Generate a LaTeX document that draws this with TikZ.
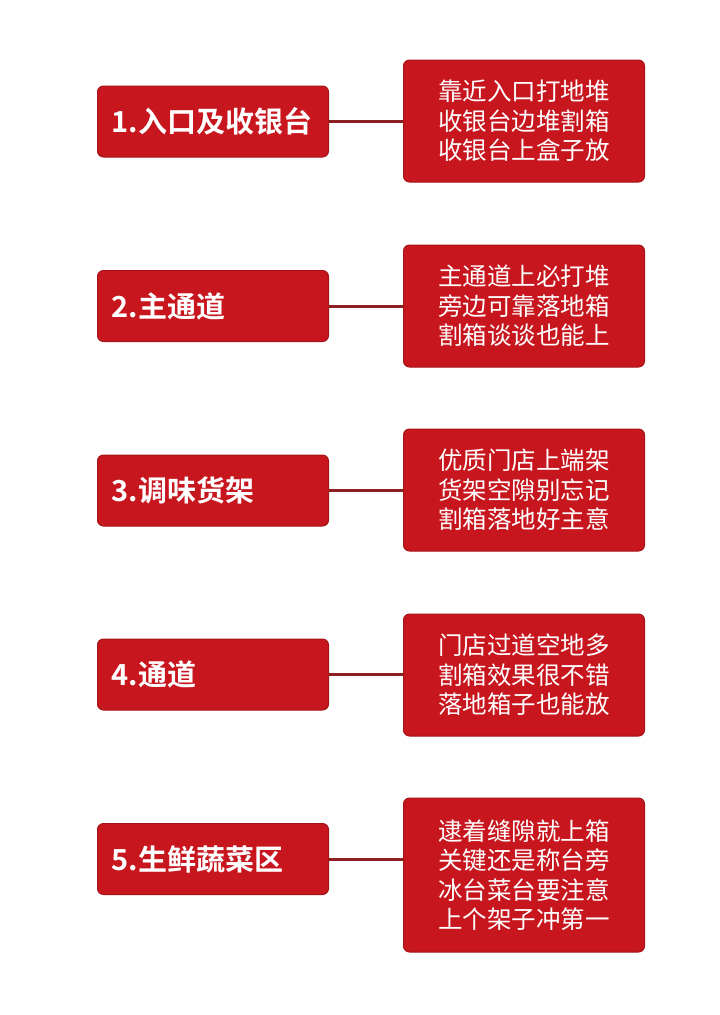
\documentclass[tikz,border=0pt]{standalone}
\usepackage{fontspec}
\setmainfont{Noto Sans CJK SC}[BoldFont={* Bold}]
\definecolor{boxred}{HTML}{C8161E}
\definecolor{boxedge}{HTML}{A51419}
\definecolor{linkred}{HTML}{8E1F22}
\tikzset{
  titlebox/.style={rectangle, rounded corners=6pt, fill=boxred, draw=boxedge, line width=1pt,
    anchor=west, text width=203pt, inner xsep=14pt, inner ysep=0pt, minimum height=71pt, align=left,
    text=white, font=\fontsize{29}{34}\selectfont\bfseries},
  notebox/.style={rectangle, rounded corners=6pt, fill=boxred, draw=boxedge, line width=1pt,
    anchor=west, minimum width=241pt, inner sep=0pt, align=center,
    text=white, font=\fontsize{24.5}{29.5}\selectfont},
  link/.style={draw=linkred, line width=3pt}
}
\begin{document}
\begin{tikzpicture}[x=1pt,y=1pt]
\useasboundingbox (0,0) rectangle (720,-1015);
\fill[white] (0,0) rectangle (720,-1015);

\node[titlebox] (L1) at (97,-121.5) {1.入口及收银台};
\node[notebox, minimum height=122pt] (R1) at (403,-121) {靠近入口打地堆\\收银台边堆割箱\\收银台上盒子放};
\draw[link] (L1.east) -- (L1.east -| R1.west);

\node[titlebox] (L2) at (97,-306) {2.主通道};
\node[notebox, minimum height=122pt] (R2) at (403,-306) {主通道上必打堆\\旁边可靠落地箱\\割箱谈谈也能上};
\draw[link] (L2.east) -- (L2.east -| R2.west);

\node[titlebox] (L3) at (97,-490.5) {3.调味货架};
\node[notebox, minimum height=122pt] (R3) at (403,-490) {优质门店上端架\\货架空隙别忘记\\割箱落地好主意};
\draw[link] (L3.east) -- (L3.east -| R3.west);

\node[titlebox] (L4) at (97,-674.5) {4.通道};
\node[notebox, minimum height=122pt] (R4) at (403,-675) {门店过道空地多\\割箱效果很不错\\落地箱子也能放};
\draw[link] (L4.east) -- (L4.east -| R4.west);

\node[titlebox] (L5) at (97,-859) {5.生鲜蔬菜区};
\node[notebox, minimum height=154pt] (R5) at (403,-875) {逮着缝隙就上箱\\关键还是称台旁\\冰台菜台要注意\\上个架子冲第一};
\draw[link] (L5.east) -- (L5.east -| R5.west);
\end{tikzpicture}
\end{document}
